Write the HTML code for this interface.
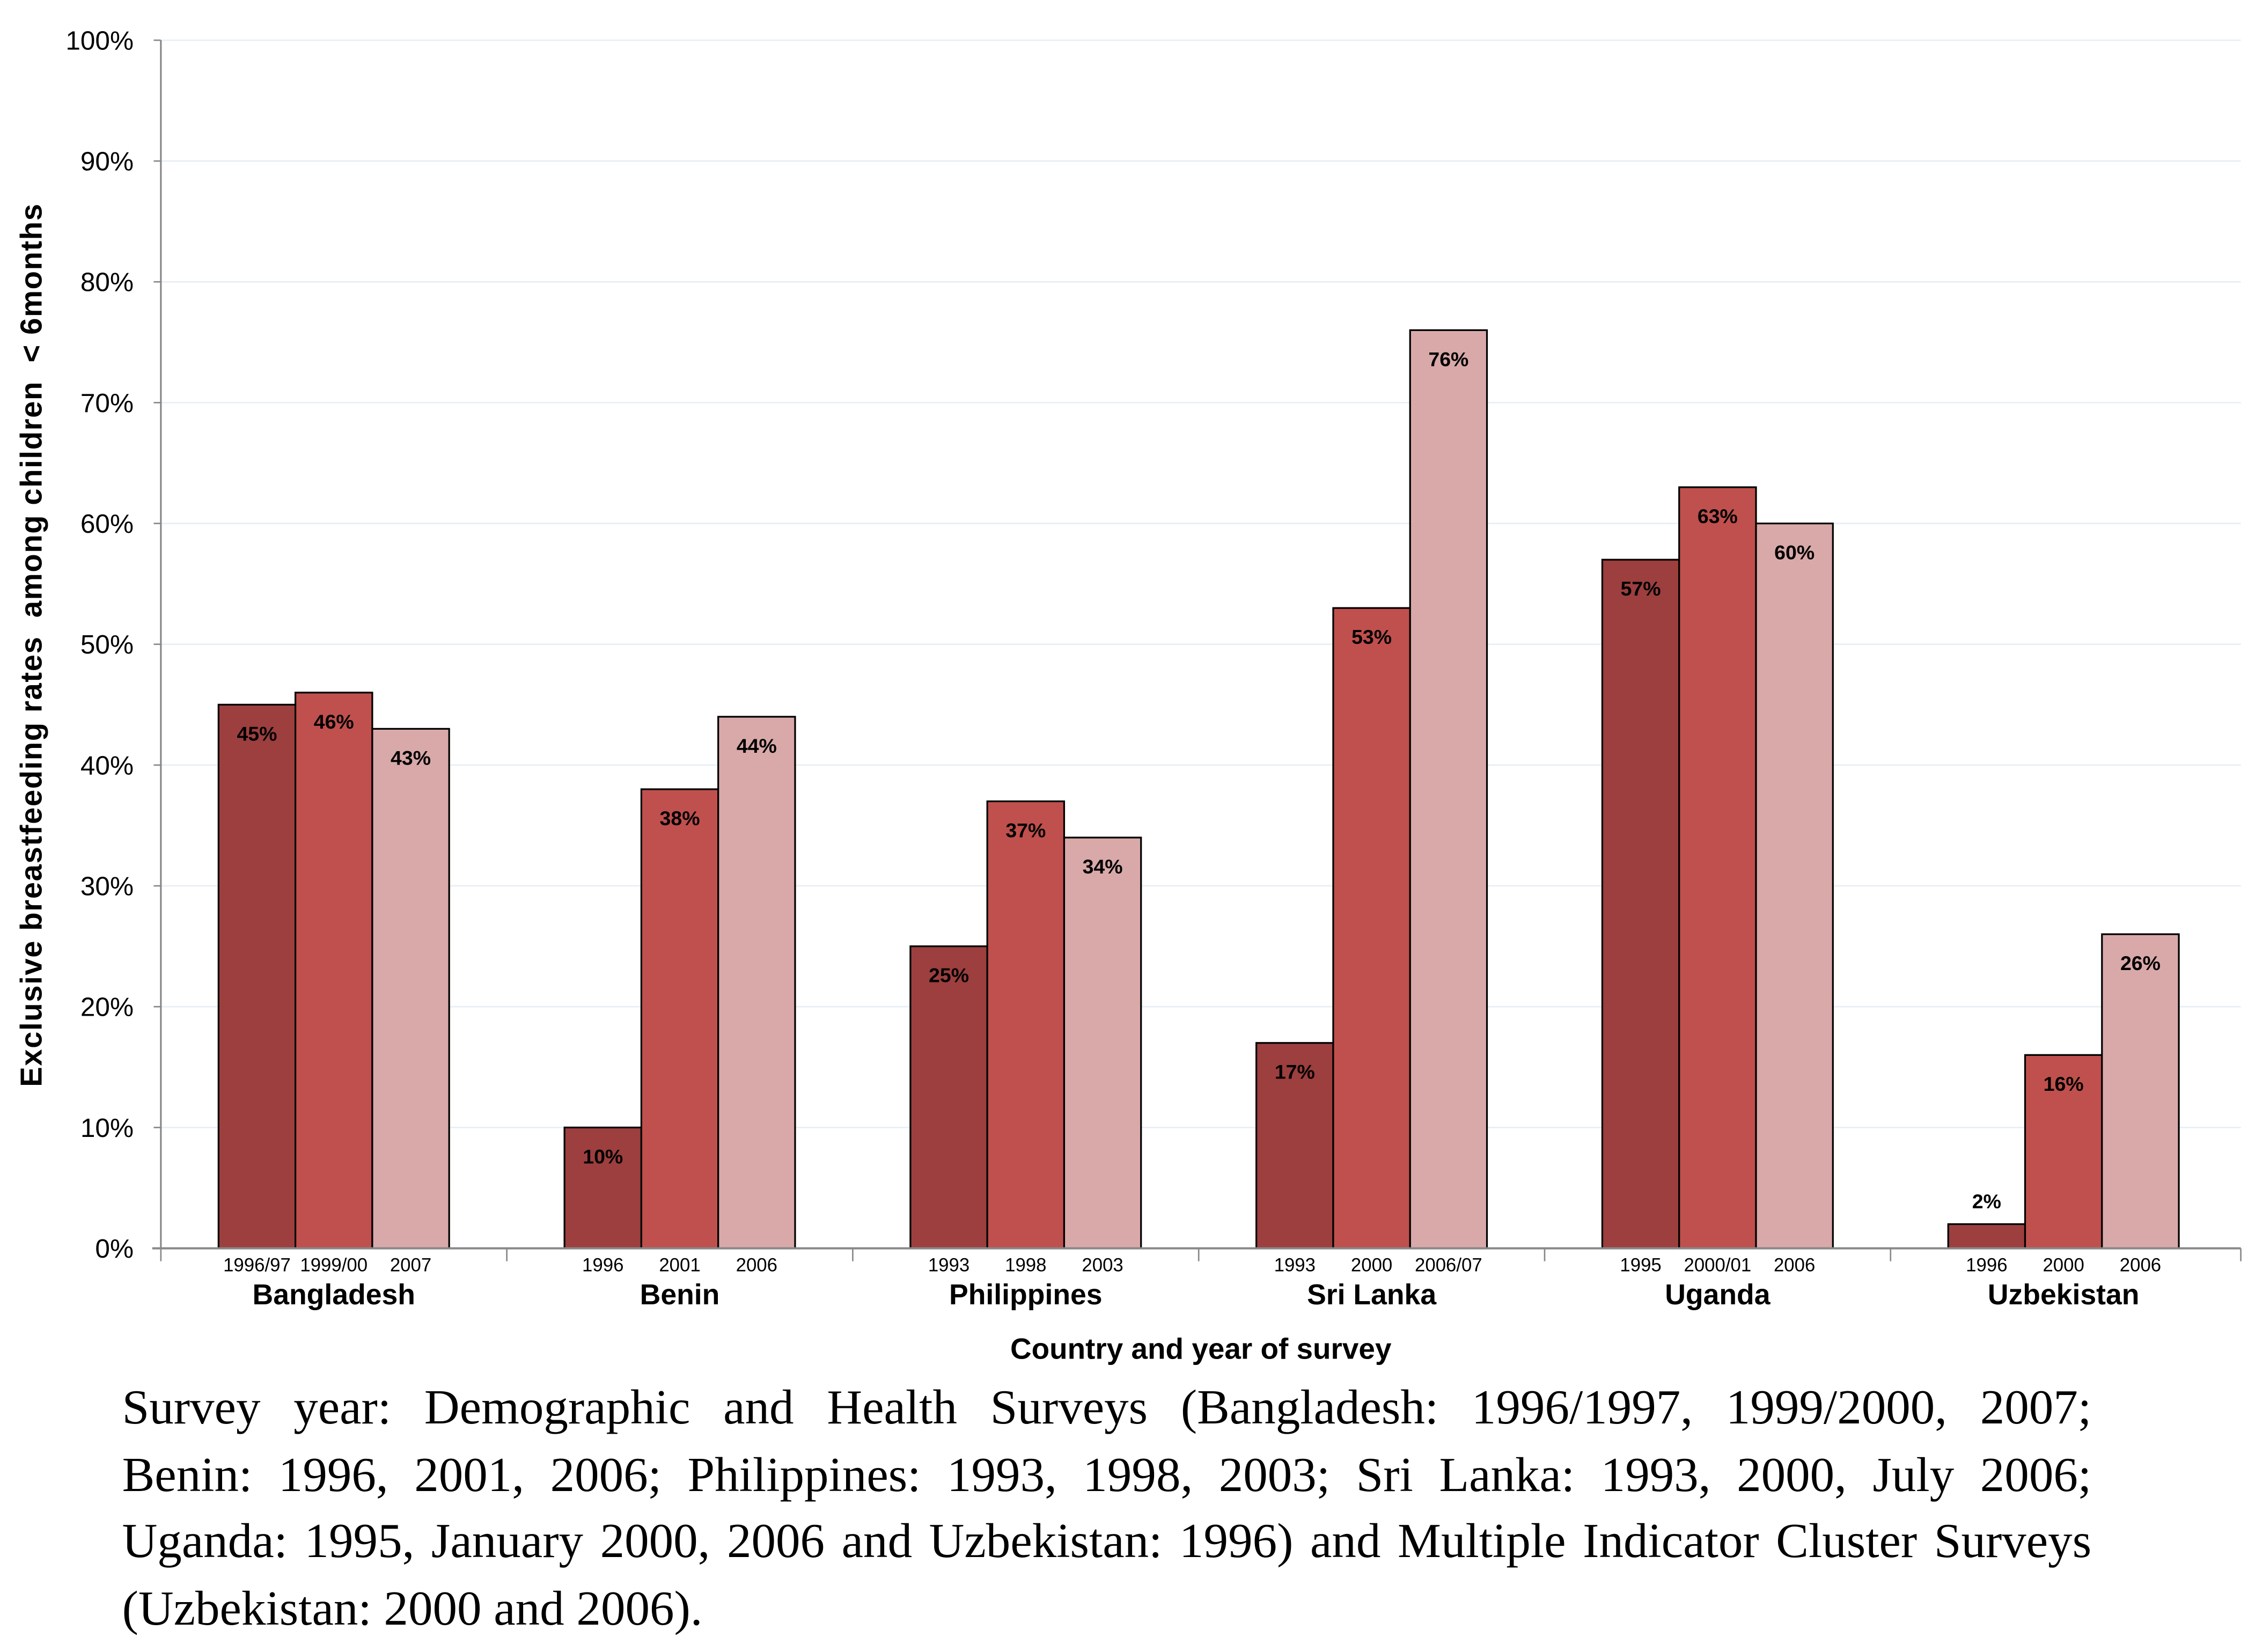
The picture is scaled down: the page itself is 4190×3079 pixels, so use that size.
<!DOCTYPE html>
<html><head><meta charset="utf-8">
<style>
html,body{margin:0;padding:0;background:#fff;width:4190px;height:3077px;overflow:hidden}
#wrap{position:absolute;left:0;top:0;width:1565px;height:1150px;transform:scale(2.6773);transform-origin:0 0}
svg{position:absolute;left:0;top:0}
.cap{position:absolute;left:85px;width:1371px;top:958px;font-family:"Liberation Serif",serif;font-size:34px;line-height:46.7px;color:#000}
.cap div{text-align:justify;text-align-last:justify;white-space:nowrap}
.cap div.last{text-align-last:left}
</style></head>
<body>
<div id="wrap">
<svg id="chart" width="1565" height="1150" viewBox="0 0 1565 1150"></svg>
<div class="cap">
<div>Survey year: Demographic and Health Surveys (Bangladesh: 1996/1997, 1999/2000, 2007;</div>
<div>Benin: 1996, 2001, 2006; Philippines: 1993, 1998, 2003; Sri Lanka: 1993, 2000, July 2006;</div>
<div>Uganda: 1995, January 2000, 2006 and Uzbekistan: 1996) and Multiple Indicator Cluster Surveys</div>
<div class="last">(Uzbekistan: 2000 and 2006).</div>
</div>
</div>
<script>
const countries = ["Bangladesh","Benin","Philippines","Sri Lanka","Uganda","Uzbekistan"];
const yearLabels = [["1996/97","1999/00","2007"],["1996","2001","2006"],["1993","1998","2003"],["1993","2000","2006/07"],["1995","2000/01","2006"],["1996","2000","2006"]];
const survey1 = [45,10,25,17,57,2];
const survey2 = [46,38,37,53,63,16];
const survey3 = [43,44,34,76,60,26];
const yTicks = [0,10,20,30,40,50,60,70,80,90,100];

const NS="http://www.w3.org/2000/svg";
const svg=document.getElementById('chart');
const X0=112, X1=1557, Y0=869, Y100=28;
const y=v=>Y0-(Y0-Y100)*v/100;
const catW=(X1-X0)/countries.length;
const barW=catW/4.5;
const colors=["#9c3f3e","#c0504d","#d9a9a9"];
function mk(tag,attrs,parent){const e=document.createElementNS(NS,tag);for(const k in attrs)e.setAttribute(k,attrs[k]);(parent||svg).appendChild(e);return e;}

yTicks.forEach(t=>{
  if(t>0){const g=mk('line',{x1:X0,x2:1560,y1:y(t),y2:y(t),stroke:'#e8eef6','stroke-width':1});
  
  }
  const tk=mk('line',{x1:X0-5,x2:X0,y1:y(t),y2:y(t),stroke:'#888','stroke-width':1});
  
  
  const tx=mk('text',{x:93,y:y(t)+6.5,'text-anchor':'end','font-family':'"Liberation Sans",sans-serif','font-size':18.5,fill:'#000'});
  tx.textContent=t+'%';
  
  
});
const ya=mk('line',{x1:X0,x2:X0,y1:Y100,y2:Y0,stroke:'#888','stroke-width':1.2});



const series=[survey1,survey2,survey3];
countries.forEach((c,i)=>{
  const gx=X0+catW*i+barW*0.75;
  series.forEach((s,j)=>{
    const v=s[i];const bx=gx+barW*j;
    const r=mk('rect',{x:bx,y:y(v),width:barW,height:Y0-y(v),fill:colors[j],stroke:'#000','stroke-width':1.2});
    
    
    const vl=mk('text',{x:bx+barW/2,y:(v<8?y(v)-11:y(v)+25),'text-anchor':'middle','font-family':'"Liberation Sans",sans-serif','font-weight':'bold','font-size':14,fill:'#000'});
    vl.textContent=v+'%';
    
    
    const yl=mk('text',{x:bx+barW/2,y:885,'text-anchor':'middle','font-family':'"Liberation Sans Narrow","Liberation Sans",sans-serif','font-size':13,fill:'#000'});
    yl.textContent=yearLabels[i][j];
    
    
  });
  const cl=mk('text',{x:X0+catW*(i+0.5),y:908,'text-anchor':'middle','font-family':'"Liberation Sans",sans-serif','font-weight':'bold','font-size':20,fill:'#000'});
  cl.textContent=c;
  
  
  const st=mk('line',{x1:X0+catW*i,x2:X0+catW*i,y1:Y0,y2:Y0+9,stroke:'#888','stroke-width':1});
  
  
});
const et=mk('line',{x1:1560,x2:1560,y1:Y0,y2:Y0+9,stroke:'#888','stroke-width':1});


const xa=mk('line',{x1:X0-6,x2:1560,y1:Y0,y2:Y0,stroke:'#888','stroke-width':1.5});


const xt=mk('text',{x:836,y:946,'text-anchor':'middle','font-family':'"Liberation Sans",sans-serif','font-weight':'bold','font-size':20.5,fill:'#000','xml:space':'preserve'});
xt.textContent='Country and year  of survey';


const yt=mk('text',{x:0,y:0,'text-anchor':'middle','font-family':'"Liberation Sans",sans-serif','font-weight':'bold','font-size':21,'letter-spacing':0.6,fill:'#000',transform:'translate(29,449) rotate(-90)'});
yt.setAttributeNS('http://www.w3.org/XML/1998/namespace','xml:space','preserve');
yt.textContent='Exclusive breastfeeding rates  among children  < 6months';


</script>
</body></html>
